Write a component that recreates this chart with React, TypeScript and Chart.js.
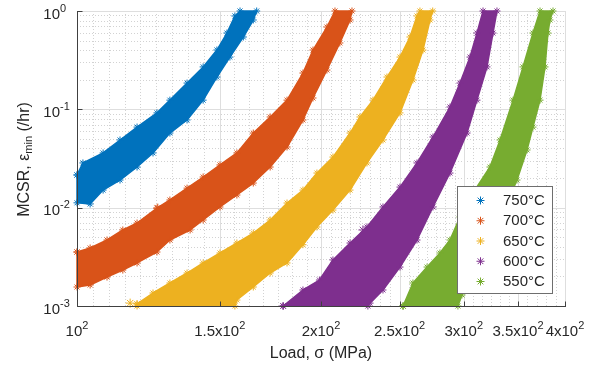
import React, { useEffect, useRef } from 'react';
import { Chart, registerables } from 'chart.js';

Chart.register(...registerables);

type Pt = [number, number];

// ---------- axis ticks / labels ----------
const xTickValues = [100, 150, 200, 250, 300, 350, 400];
const xTickLabels = ['10^2', '1.5x10^2', '2x10^2', '2.5x10^2', '3x10^2', '3.5x10^2', '4x10^2'];
const yTickValues = [0.001, 0.01, 0.1, 1];
const yTickLabels = ['10^-3', '10^-2', '10^-1', '10^0'];
const xMinorDivisions = [9, 7, 8, 7, 6, 5];
const xTitle = 'Load, σ (MPa)';
const yTitleMain = 'MCSR, ε';
const yTitleSub = 'min';
const yTitleEnd = ' (/hr)';

// ---------- series ----------
const seriesLabels = ['750°C', '700°C', '650°C', '600°C', '550°C'];
const seriesColors = ['#0072BD', '#D95319', '#EDB120', '#7E2F8E', '#77AC30'];

// outlines of each scatter cloud: [load (MPa), MCSR (/hr)]
// upper-left edge (bottom -> top), then lower-right edge (top -> bottom)
const band750Upper: Pt[] = [
  [100, 0.0215], [101.7, 0.0285], [107.7, 0.036], [113.0, 0.0488], [118.6, 0.066],
  [125.5, 0.092], [130.2, 0.124], [136.7, 0.185], [143.1, 0.27], [148.8, 0.401],
  [153.1, 0.597], [156.6, 0.89], [158.9, 1.0],
];
const band750Lower: Pt[] = [
  [166.6, 1.0], [165.0, 0.81], [160.4, 0.544], [154.4, 0.34], [148.8, 0.213],
  [143.1, 0.124], [136.7, 0.078], [130.2, 0.0574], [124.1, 0.036], [118.6, 0.0259],
  [113.0, 0.0191], [107.7, 0.0151], [103.8, 0.0109], [100, 0.0112],
];

const band700Upper: Pt[] = [
  [100, 0.00354], [103.8, 0.00389], [108.9, 0.00469], [113.9, 0.00593], [118.6, 0.00698],
  [125.5, 0.0099], [130.2, 0.01197], [136.7, 0.0158], [143.1, 0.0205], [150.1, 0.0272],
  [157.5, 0.036], [165.0, 0.0574], [173.1, 0.0836], [181.6, 0.124], [190.0, 0.234],
  [195.5, 0.401], [203.4, 0.687], [208.1, 1.0],
];
const band700Lower: Pt[] = [
  [218.4, 1.0], [217.2, 0.81], [211.0, 0.473], [203.4, 0.251], [195.5, 0.1304],
  [190.0, 0.0779], [181.6, 0.0414], [173.1, 0.0259], [165.0, 0.0178], [157.5, 0.01345],
  [150.1, 0.01016], [143.1, 0.00749], [137.9, 0.00593], [130.2, 0.00469], [125.5, 0.00354],
  [118.6, 0.00274], [113.9, 0.00232], [108.9, 0.00197], [103.8, 0.001635], [100, 0.00156],
];

const band650Upper: Pt[] = [
  [118.6, 0.00105], [124.1, 0.001356], [130.2, 0.001714], [136.7, 0.002165], [143.1, 0.00274],
  [150.1, 0.00346], [157.5, 0.00437], [165.0, 0.00552], [173.1, 0.00749], [181.6, 0.01115],
  [190.0, 0.0151], [197.7, 0.0225], [206.9, 0.0327], [217.2, 0.0574], [223.4, 0.0836],
  [231.8, 0.124], [241.2, 0.213], [250.3, 0.34], [257.5, 0.544], [262.7, 0.89], [264.9, 1.0],
];
const band650Lower: Pt[] = [
  [274.7, 1.0], [272.6, 0.81], [267.2, 0.401], [259.7, 0.199], [250.3, 0.092],
  [238.5, 0.0488], [227.9, 0.0285], [217.2, 0.0151], [206.9, 0.00946], [197.7, 0.00636],
  [190.0, 0.0042], [181.6, 0.00274], [173.1, 0.002165], [165.0, 0.00156], [157.5, 0.00115],
  [156.6, 0.001], [118.6, 0.001],
];

const band600Upper: Pt[] = [
  [179.6, 0.001], [190.0, 0.001455], [199.1, 0.001837], [206.9, 0.00294], [217.2, 0.00437],
  [227.9, 0.00636], [238.5, 0.01016], [250.3, 0.0162], [262.7, 0.0285], [274.9, 0.0523],
  [288.5, 0.1056], [296.8, 0.185], [305.4, 0.34], [311.5, 0.597], [316.9, 1.0],
];
const band600Lower: Pt[] = [
  [329.7, 1.0], [326.0, 0.597], [320.5, 0.27], [311.5, 0.124], [302.8, 0.0574],
  [288.5, 0.0225], [274.9, 0.01016], [262.7, 0.00469], [250.3, 0.00249], [238.5, 0.001455],
  [229.9, 0.00107], [228.5, 0.001], [179.6, 0.001],
];

const band550Upper: Pt[] = [
  [252.5, 0.001], [259.7, 0.001714], [270.3, 0.00249], [280.4, 0.00346], [288.5, 0.00469],
  [296.8, 0.00804], [308.0, 0.0141], [323.2, 0.0259], [332.6, 0.0488], [345.1, 0.124],
  [355.0, 0.27], [365.2, 0.597], [372.6, 1.0],
];
const band550Lower: Pt[] = [
  [386.6, 1.0], [383.3, 0.81], [381.1, 0.597], [377.9, 0.27], [372.6, 0.124],
  [365.2, 0.066], [359.1, 0.0386], [349.0, 0.0191], [332.6, 0.00749], [314.2, 0.00294],
  [298.5, 0.001294], [295.1, 0.001], [252.5, 0.001],
];

// isolated points standing out of the clouds
const outliers700: Pt[] = [[125.8, 0.0099]];
const outliers650: Pt[] = [[116.3, 0.00107], [224.7, 0.0726]];
const outliers600: Pt[] = [[225.3, 0.00593], [236.5, 0.00715], [278.8, 0.0523]];

const bandUppers = [band750Upper, band700Upper, band650Upper, band600Upper, band550Upper];
const bandLowers = [band750Lower, band700Lower, band650Lower, band600Lower, band550Lower];
const bandOutliers: Pt[][] = [[], outliers700, outliers650, outliers600, []];

// ---------- style ----------
const FONT = '"Liberation Sans", Arial, Helvetica, sans-serif';
const TEXT = '#262626';

function splitPow(label: string): [string, string] {
  const i = label.indexOf('^');
  return i < 0 ? [label, ''] : [label.slice(0, i), label.slice(i + 1)];
}

function drawStar(ctx: CanvasRenderingContext2D, x: number, y: number, r: number, color: string) {
  ctx.save();
  ctx.strokeStyle = color;
  ctx.lineWidth = 1;
  ctx.beginPath();
  for (let k = 0; k < 4; k++) {
    const a = (k * Math.PI) / 4;
    ctx.moveTo(x - r * Math.cos(a), y - r * Math.sin(a));
    ctx.lineTo(x + r * Math.cos(a), y + r * Math.sin(a));
  }
  ctx.stroke();
  ctx.restore();
}

const matlabPlugin = {
  id: 'matlabAxes',
  beforeDatasetsDraw(chart: any) {
    const { ctx, chartArea } = chart;
    const { left, right, top, bottom } = chartArea;
    const xs = chart.scales.x;
    const ys = chart.scales.y;
    ctx.save();
    ctx.lineWidth = 1;
    // minor grid (dotted)
    ctx.strokeStyle = '#d2d2d2';
    ctx.setLineDash([1, 2]);
    ctx.beginPath();
    for (let i = 0; i < xTickValues.length - 1; i++) {
      const a = Math.log10(xTickValues[i]);
      const b = Math.log10(xTickValues[i + 1]);
      const n = xMinorDivisions[i];
      for (let k = 1; k < n; k++) {
        const v = Math.pow(10, a + ((b - a) * k) / n);
        const px = Math.round(xs.getPixelForValue(v)) + 0.5;
        ctx.moveTo(px, top);
        ctx.lineTo(px, bottom);
      }
    }
    for (let e = -3; e < 0; e++) {
      for (let m = 2; m <= 9; m++) {
        const py = Math.round(ys.getPixelForValue(m * Math.pow(10, e))) + 0.5;
        ctx.moveTo(left, py);
        ctx.lineTo(right, py);
      }
    }
    ctx.stroke();
    // major grid
    ctx.setLineDash([]);
    ctx.strokeStyle = '#dedede';
    ctx.beginPath();
    for (const v of xTickValues) {
      const px = Math.round(xs.getPixelForValue(v)) + 0.5;
      ctx.moveTo(px, top);
      ctx.lineTo(px, bottom);
    }
    for (const v of yTickValues) {
      const py = Math.round(ys.getPixelForValue(v)) + 0.5;
      ctx.moveTo(left, py);
      ctx.lineTo(right, py);
    }
    ctx.stroke();
    ctx.restore();
  },
  afterDatasetsDraw(chart: any) {
    const { ctx, chartArea } = chart;
    const { left, right, top, bottom } = chartArea;
    const xs = chart.scales.x;
    const ys = chart.scales.y;
    ctx.save();
    // axis lines + ticks
    ctx.strokeStyle = '#404040';
    ctx.lineWidth = 1;
    ctx.beginPath();
    const L = Math.round(left) + 0.5;
    const B = Math.round(bottom) + 0.5;
    ctx.moveTo(L, Math.round(top));
    ctx.lineTo(L, B);
    ctx.lineTo(Math.round(right) + 1, B);
    for (const v of xTickValues) {
      const px = Math.round(xs.getPixelForValue(v)) + 0.5;
      ctx.moveTo(px, B);
      ctx.lineTo(px, B - 5);
    }
    for (const v of yTickValues) {
      const py = Math.round(ys.getPixelForValue(v)) + 0.5;
      ctx.moveTo(L, py);
      ctx.lineTo(L + 5, py);
    }
    ctx.stroke();

    // tick labels
    ctx.fillStyle = TEXT;
    ctx.textBaseline = 'middle';
    ctx.textAlign = 'left';
    xTickValues.forEach((v, i) => {
      const [b, s] = splitPow(xTickLabels[i]);
      ctx.font = `15px ${FONT}`;
      const wb = ctx.measureText(b).width;
      ctx.font = `11px ${FONT}`;
      const ws = ctx.measureText(s).width;
      const x0 = xs.getPixelForValue(v) - (wb + ws) / 2;
      const y0 = bottom + 26;
      ctx.font = `15px ${FONT}`;
      ctx.fillText(b, x0, y0);
      ctx.font = `11px ${FONT}`;
      ctx.fillText(s, x0 + wb, y0 - 6);
    });
    yTickValues.forEach((v, i) => {
      const [b, s] = splitPow(yTickLabels[i]);
      ctx.font = `15px ${FONT}`;
      const wb = ctx.measureText(b).width;
      const xr = left - 17;
      const y0 = ys.getPixelForValue(v) + 3.5;
      ctx.fillText(b, xr - wb, y0);
      ctx.font = `11px ${FONT}`;
      ctx.fillText(s, xr, y0 - 6);
    });

    // x title
    ctx.font = `16px ${FONT}`;
    ctx.textAlign = 'center';
    ctx.fillText(xTitle, (left + right) / 2, bottom + 48);

    // y title (rotated, with subscript)
    ctx.textAlign = 'left';
    ctx.font = `16px ${FONT}`;
    const w1 = ctx.measureText(yTitleMain).width;
    const w3 = ctx.measureText(yTitleEnd).width;
    ctx.font = `11px ${FONT}`;
    const w2 = ctx.measureText(yTitleSub).width;
    const tot = w1 + w2 + w3;
    ctx.save();
    ctx.translate(25, (top + bottom) / 2 + 1);
    ctx.rotate(-Math.PI / 2);
    ctx.font = `16px ${FONT}`;
    ctx.fillText(yTitleMain, -tot / 2, 0);
    ctx.font = `11px ${FONT}`;
    ctx.fillText(yTitleSub, -tot / 2 + w1, 4);
    ctx.font = `16px ${FONT}`;
    ctx.fillText(yTitleEnd, -tot / 2 + w1 + w2, 0);
    ctx.restore();

    // legend box (inside plot, bottom-right)
    const bx = 457.5, by = 186.5, bw = 95, bh = 107;
    ctx.fillStyle = '#ffffff';
    ctx.fillRect(bx, by, bw, bh);
    ctx.strokeStyle = '#6e6e6e';
    ctx.strokeRect(bx, by, bw, bh);
    ctx.font = `15px ${FONT}`;
    ctx.textBaseline = 'middle';
    seriesLabels.forEach((lab, i) => {
      const yy = by + 14 + i * 20.25;
      drawStar(ctx, bx + 23, yy, 4, seriesColors[i]);
      ctx.fillStyle = TEXT;
      ctx.fillText(lab, bx + 45.5, yy + 0.5);
    });
    ctx.restore();
  },
};

export default function App() {
  const canvasRef = useRef<HTMLCanvasElement | null>(null);

  useEffect(() => {
    const canvas = canvasRef.current;
    if (!canvas) return;
    const datasets: any[] = [];
    seriesLabels.forEach((label, i) => {
      const poly = [...bandUppers[i], ...bandLowers[i], bandUppers[i][0]];
      datasets.push({
        type: 'scatter',
        label,
        data: poly.map(([x, y]) => ({ x, y })),
        showLine: true,
        fill: 'shape',
        tension: 0,
        borderColor: seriesColors[i],
        backgroundColor: seriesColors[i],
        borderWidth: 1.5,
        borderJoinStyle: 'round',
        pointStyle: 'star',
        pointRadius: 3.5,
        pointBorderWidth: 1,
        pointBorderColor: seriesColors[i],
        pointBackgroundColor: seriesColors[i],
        clip: 6,
      });
      if (bandOutliers[i].length) {
        datasets.push({
          type: 'scatter',
          label: '',
          data: bandOutliers[i].map(([x, y]) => ({ x, y })),
          showLine: false,
          pointStyle: 'star',
          pointRadius: 4.5,
          pointBorderWidth: 1,
          borderColor: seriesColors[i],
          backgroundColor: seriesColors[i],
          clip: 6,
        });
      }
    });

    const chart = new Chart(canvas, {
      type: 'scatter',
      data: { datasets },
      options: {
        animation: false,
        responsive: false,
        events: [],
        layout: { padding: { left: 77, top: 11, right: 38, bottom: 61 } },
        plugins: {
          legend: { display: false },
          tooltip: { enabled: false },
          title: { display: false },
        },
        scales: {
          x: { type: 'logarithmic', min: 100, max: 400, display: false },
          y: { type: 'logarithmic', min: 0.001, max: 1, display: false },
        },
      } as any,
      plugins: [matlabPlugin as any],
    });
    return () => chart.destroy();
  }, []);

  return (
    <div style={{ position: 'absolute', left: 0, top: 0, width: 603, height: 367, background: '#fff' }}>
      <canvas ref={canvasRef} width={603} height={367} style={{ width: 603, height: 367, display: 'block' }} />
    </div>
  );
}
